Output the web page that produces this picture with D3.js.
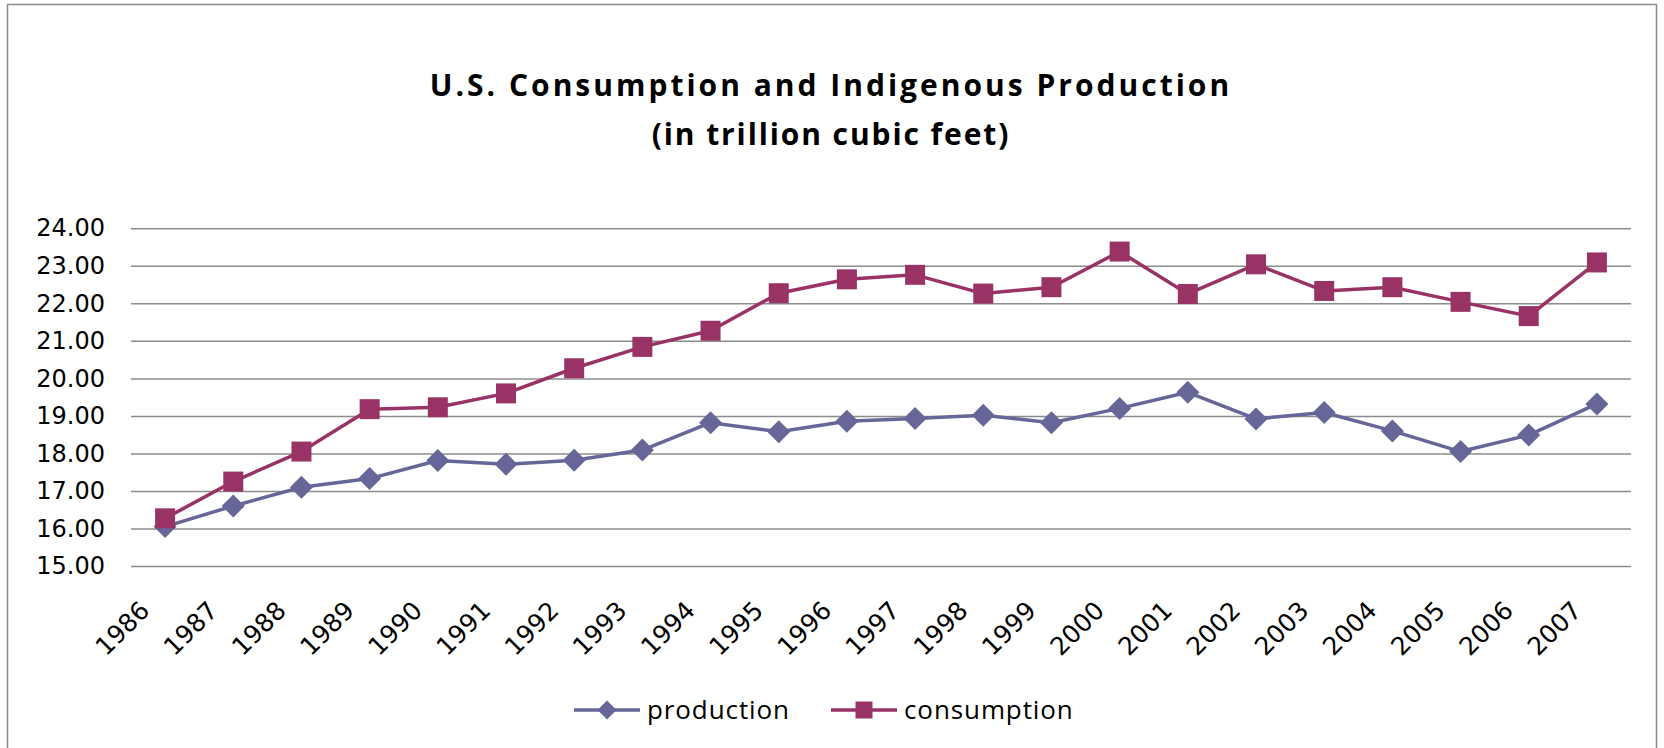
<!DOCTYPE html>
<html>
<head>
<meta charset="utf-8">
<script src="https://cdn.jsdelivr.net/npm/d3@7"></script>
<style>
  html, body { margin: 0; padding: 0; background: #fff; }
  svg { display: block; }
</style>
</head>
<body>
<svg id="chart" width="1664" height="748"></svg>
<script>
const years = ["1986","1987","1988","1989","1990","1991","1992","1993","1994","1995","1996","1997","1998","1999","2000","2001","2002","2003","2004","2005","2006","2007"];
const production = [16.05,16.60,17.10,17.33,17.81,17.71,17.82,18.09,18.82,18.58,18.86,18.93,19.02,18.82,19.20,19.63,18.92,19.09,18.60,18.05,18.49,19.32];
const consumption = [16.27,17.25,18.05,19.18,19.23,19.60,20.27,20.84,21.27,22.27,22.64,22.76,22.26,22.43,23.38,22.25,23.04,22.33,22.43,22.04,21.66,23.09];
const yTicks = [15,16,17,18,19,20,21,22,23,24];
const seriesNames = ["production","consumption"];
const titleLines = ["U.S. Consumption and Indigenous Production","(in trillion cubic feet)"];

const colors = {production: "#666699", consumption: "#993366"};
const svg = d3.select("#chart");
const W = 1664, H = 748;
const plot = {left: 131, right: 1631, top: 228.3, bottom: 566};

svg.append("rect").attr("width", W).attr("height", H).attr("fill", "#fff");
svg.append("rect").attr("x", 7.5).attr("y", 4.5).attr("width", 1649).attr("height", 780)
  .attr("fill", "none").attr("stroke", "#8a8a8a").attr("stroke-width", 1.5);

const x = d3.scaleBand().domain(years).range([plot.left, plot.right]).paddingInner(0).paddingOuter(0);
const xc = d => x(d) + x.bandwidth() / 2;
const y = d3.scaleLinear().domain([15, 24]).range([plot.bottom, plot.top]);

// title
const title = svg.append("g").attr("font-family", "'Open Sans', sans-serif").attr("font-weight", "bold")
  .attr("font-size", 30).attr("text-anchor", "middle").attr("fill", "#000");
title.append("text").attr("x", 831).attr("y", 96).attr("letter-spacing", 3).text(titleLines[0]);
title.append("text").attr("x", 831).attr("y", 145).attr("letter-spacing", 1.9).text(titleLines[1]);

// grid + y axis
const yAxis = d3.axisLeft(y).tickValues(yTicks).tickFormat(d3.format(".2f"))
  .tickSize(-(plot.right - plot.left)).tickPadding(26);
const gy = svg.append("g").attr("transform", `translate(${plot.left},0)`).call(yAxis);
gy.select(".domain").remove();
gy.selectAll(".tick line").attr("stroke", "#8c8c8c").attr("stroke-width", 1.5);
gy.selectAll(".tick text").attr("font-family", "'DejaVu Sans', sans-serif").attr("font-size", 24).attr("fill", "#000");

// x axis labels
const xAxis = d3.axisBottom(x).tickSize(0).tickPadding(0);
const gx = svg.append("g").attr("transform", `translate(0,${plot.bottom})`).call(xAxis);
gx.select(".domain").remove();
gx.selectAll(".tick text")
  .attr("font-family", "'DejaVu Sans', sans-serif").attr("font-size", 25).attr("fill", "#000")
  .attr("text-anchor", "end").attr("dy", 0).attr("y", 0)
  .attr("transform", "translate(-14,46) rotate(-45)");

// lines
const data = {production, consumption};
seriesNames.forEach(name => {
  const line = d3.line().x((d, i) => xc(years[i])).y(d => y(d));
  svg.append("path").datum(data[name]).attr("d", line).attr("fill", "none")
    .attr("stroke", colors[name]).attr("stroke-width", 3.5).attr("stroke-linejoin", "round");
});

const diamond = r => `M0,${-r}L${r},0L0,${r}L${-r},0Z`;
const square = s => `M${-s/2},${-s/2}h${s}v${s}h${-s}Z`;

svg.append("g").selectAll("path").data(production).join("path")
  .attr("transform", (d, i) => `translate(${xc(years[i])},${y(d)})`)
  .attr("d", diamond(11.5)).attr("fill", colors.production);
svg.append("g").selectAll("path").data(consumption).join("path")
  .attr("transform", (d, i) => `translate(${xc(years[i])},${y(d)})`)
  .attr("d", square(20)).attr("fill", colors.consumption);

// legend
const leg = svg.append("g").attr("font-family", "'Open Sans', sans-serif").attr("font-size", 26)
  .attr("letter-spacing", 0.9).attr("fill", "#000");
const legItems = [
  {name: "production", x0: 574, shape: diamond(9.5)},
  {name: "consumption", x0: 831, shape: square(17)}
];
const ly = 710;
legItems.forEach(it => {
  leg.append("line").attr("x1", it.x0).attr("x2", it.x0 + 66).attr("y1", ly).attr("y2", ly)
    .attr("stroke", colors[it.name]).attr("stroke-width", 3.5);
  leg.append("path").attr("transform", `translate(${it.x0 + 33},${ly})`).attr("d", it.shape).attr("fill", colors[it.name]);
  leg.append("text").attr("x", it.x0 + 73).attr("y", ly).attr("dy", "0.35em").text(it.name);
});
</script>
</body>
</html>
